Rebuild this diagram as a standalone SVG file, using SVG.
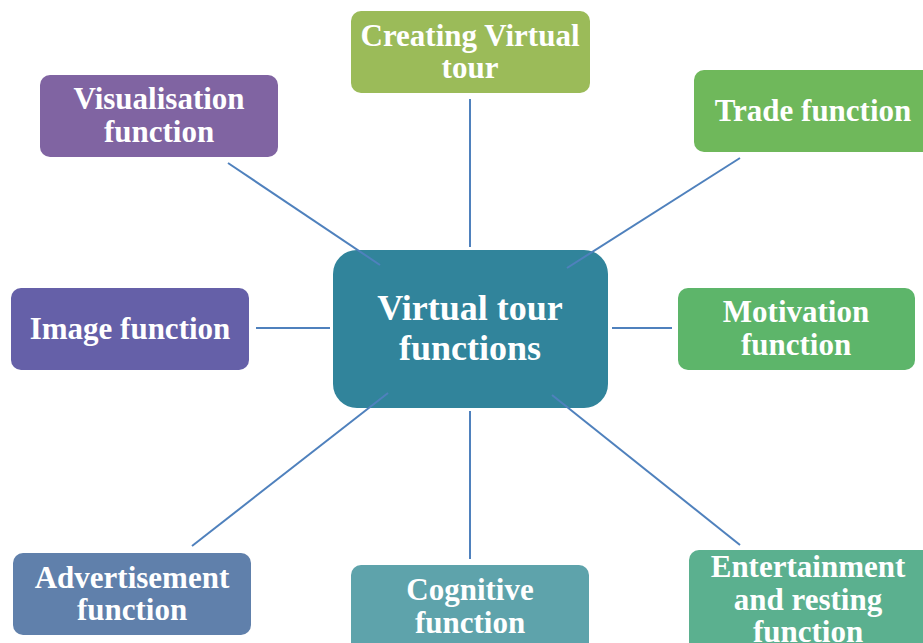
<svg xmlns="http://www.w3.org/2000/svg" width="923" height="643" viewBox="0 0 923 643">
<style>
.t{font-family:"Liberation Serif","Times New Roman",serif;font-weight:bold;font-size:31px;fill:#fff;text-anchor:middle}
.c{font-size:36px}
.ln{stroke:#4f81bd;stroke-width:2;fill:none}
</style>
<rect width="923" height="643" fill="#fff"/>
<g id="center">
<rect x="333" y="250" width="275" height="158" rx="24" fill="#31849b"/>
<text class="t c" x="470" y="320">Virtual tour</text>
<text class="t c" x="470" y="360">functions</text>
</g>
<g id="creating">
<rect x="351" y="11" width="239" height="82" rx="10" fill="#9bbb59"/>
<text class="t" x="470" y="46">Creating Virtual</text>
<text class="t" x="470" y="78">tour</text>
</g>
<g id="trade">
<rect x="694" y="70" width="240" height="82" rx="10" fill="#6fb85b"/>
<text class="t" x="813" y="121">Trade function</text>
</g>
<g id="visualisation">
<rect x="40" y="75" width="238" height="82" rx="10" fill="#8064a2"/>
<text class="t" x="159" y="109">Visualisation</text>
<text class="t" x="159" y="142">function</text>
</g>
<g id="image">
<rect x="11" y="288" width="238" height="82" rx="10" fill="#6560a8"/>
<text class="t" x="130" y="339">Image function</text>
</g>
<g id="motivation">
<rect x="678" y="288" width="237" height="82" rx="10" fill="#5db56a"/>
<text class="t" x="796" y="322">Motivation</text>
<text class="t" x="796" y="355">function</text>
</g>
<g id="advertisement">
<rect x="13" y="553" width="238" height="82" rx="10" fill="#6080ab"/>
<text class="t" x="132" y="588">Advertisement</text>
<text class="t" x="132" y="620">function</text>
</g>
<g id="cognitive">
<rect x="351" y="565" width="238" height="90" rx="10" fill="#5ea3ab"/>
<text class="t" x="470" y="600">Cognitive</text>
<text class="t" x="470" y="633">function</text>
</g>
<g id="entertainment">
<rect x="689" y="550" width="250" height="105" rx="10" fill="#5bb08f"/>
<text class="t" x="808" y="577">Entertainment</text>
<text class="t" x="808" y="610">and resting</text>
<text class="t" x="808" y="642">function</text>
</g>
<g id="connectors">
<line class="ln" x1="470" y1="99" x2="470" y2="247"/>
<line class="ln" x1="740" y1="158" x2="567" y2="268"/>
<line class="ln" x1="228" y1="163" x2="380" y2="265"/>
<line class="ln" x1="256" y1="328" x2="330" y2="328"/>
<line class="ln" x1="612" y1="328" x2="672" y2="328"/>
<line class="ln" x1="192" y1="546" x2="388" y2="393"/>
<line class="ln" x1="470" y1="411" x2="470" y2="559"/>
<line class="ln" x1="552" y1="395" x2="740" y2="545"/>
</g>
</svg>
